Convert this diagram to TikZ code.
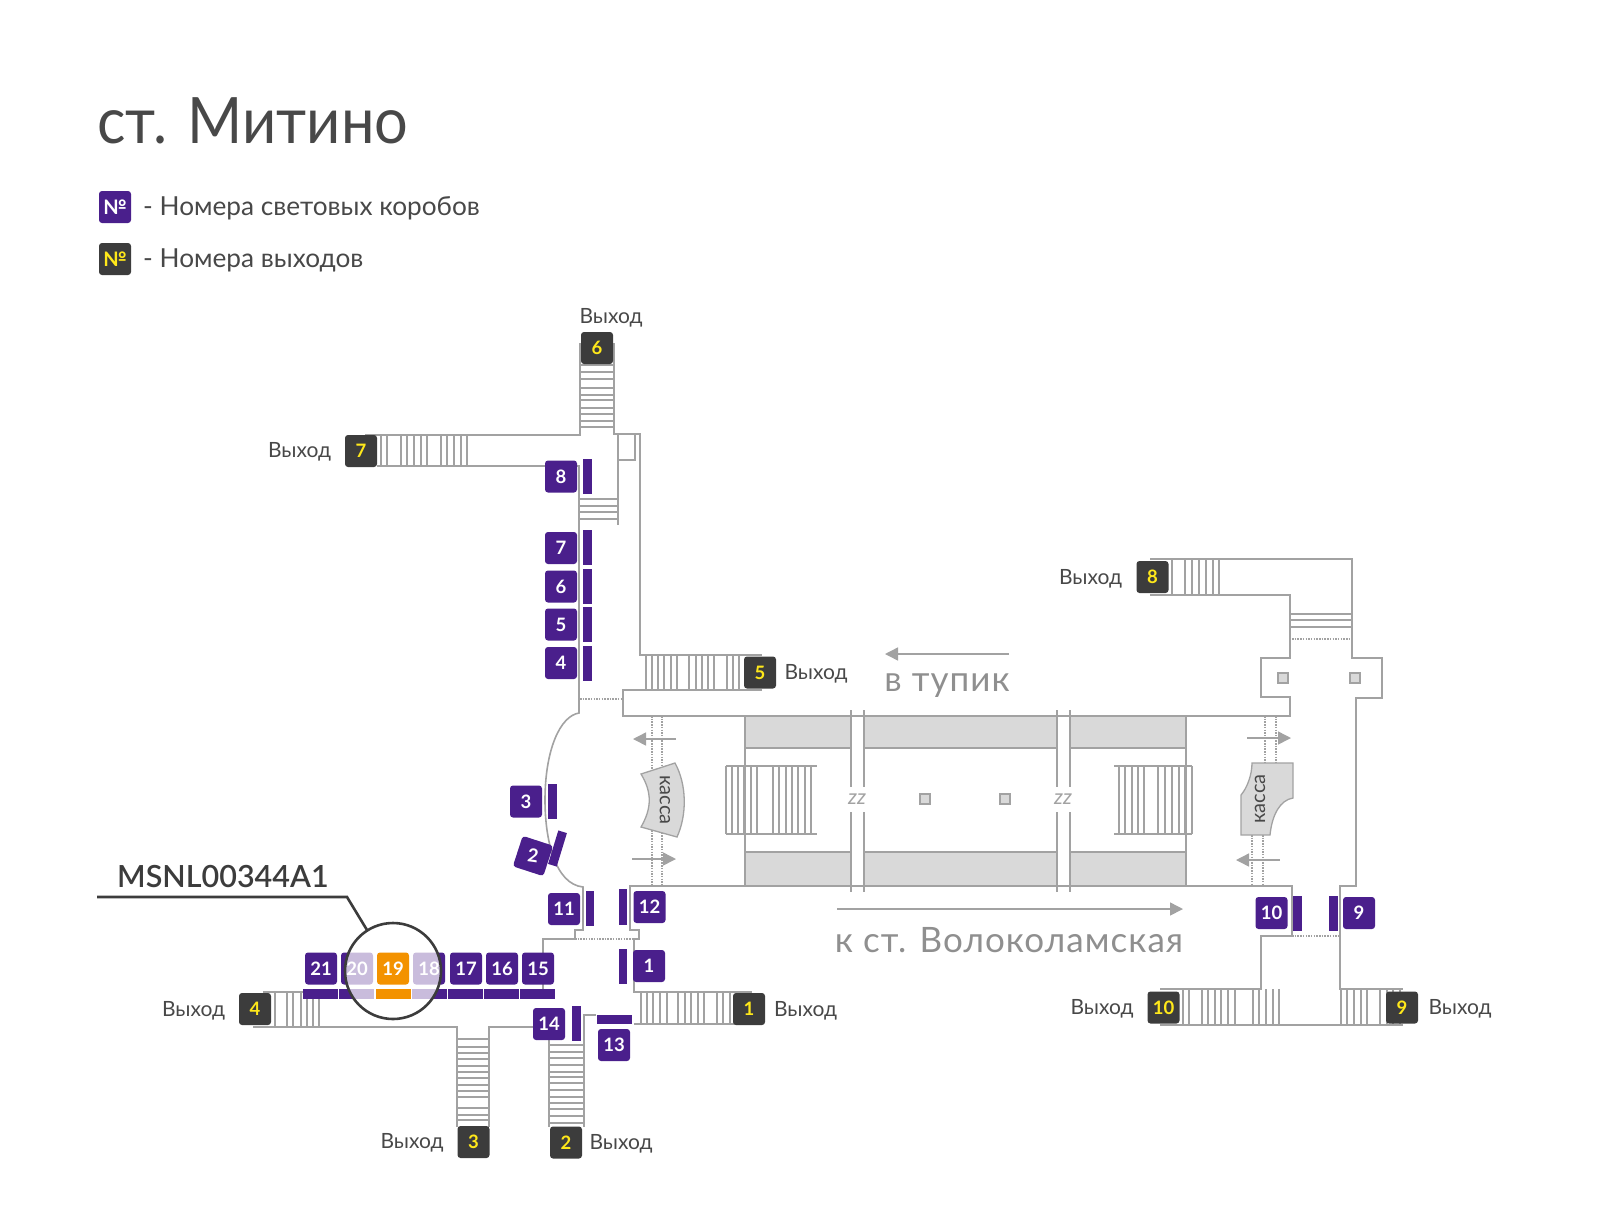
\documentclass[tikz,border=0pt]{standalone}
\usepackage{fontspec}
\setmainfont{Lato}
\newfontfamily\titlef[FakeStretch=0.93]{Lato}
\newfontfamily\medf{Lato Semibold}
\newfontfamily\numf{Lato Bold}
\newfontfamily\farf[LetterSpace=3]{Lato}
\definecolor{wall}{HTML}{A2A2A2}
\definecolor{band}{HTML}{D9D9D9}
\definecolor{plum}{HTML}{4A1F8C}
\definecolor{ink}{HTML}{3C3C3C}
\definecolor{inkt}{HTML}{484848}
\definecolor{amber}{HTML}{F39200}
\definecolor{lemon}{HTML}{FFE81A}
\definecolor{greytext}{HTML}{8F8F8F}
\newcommand{\fs}[1]{\fontsize{#1}{#1}\selectfont}
\tikzset{
  wallline/.style={draw=wall,line width=1.6pt},
  dotline/.style={draw=wall,line width=1.2pt,dash pattern=on 1.5pt off 1.2pt},
  tread/.style={draw=wall,line width=1.3pt},
  purplebox/.style={fill=plum,rounded corners=3pt,minimum size=32pt,inner sep=0pt,text=white,font=\numf\fs{18.5}},
  exitbox/.style={fill=ink,rounded corners=3pt,minimum size=32pt,inner sep=0pt,text=lemon,font=\numf\fs{18.5}},
  bar/.style={fill=plum},
  vyhod/.style={inner sep=0pt,text=inkt,font=\fs{21}},
  bigarrow/.style={draw=wall,line width=1.5pt,-{Triangle[length=13pt,width=13pt]}},
  pillar/.style={draw=wall,fill=band,line width=1.3pt},
  kassashape/.style={draw=wall,fill=band,line width=1.3pt},
  kassatext/.style={inner sep=0pt,text=inkt,font=\fs{20}},
  zztext/.style={inner sep=1pt,fill=white,text=wall,font=\itshape\fs{21}},
  farlabel/.style={inner sep=0pt,text=greytext,font=\farf\fs{35}},
  legendtext/.style={inner sep=0pt,anchor=west,text=inkt,font=\fs{26.2}}
}
\usetikzlibrary{arrows.meta}
\begin{document}
\begin{tikzpicture}[x=1pt,y=-1pt]
\useasboundingbox (0,0) rectangle (1600,1216);
% title and legend
\node[inner sep=0pt,anchor=base west,text=inkt,font=\titlef\fs{64}] (title) at (97,143) {ст. Митино};
\node[purplebox,font=\numf\fs{20}] (legA) at (115,207) {№};
\node[exitbox,font=\numf\fs{20}] (legB) at (115,259) {№};
\node[legendtext] (legAt) at (143,208) {- Номера световых коробов};
\node[legendtext] (legBt) at (143,260) {- Номера выходов};

% platform bands
\foreach \a/\b in {745/851,864/1057,1070/1186}{
  \path[fill=band] (\a,716) rectangle (\b,748);
  \path[fill=band] (\a,852) rectangle (\b,886);
  \draw[tread] (\a,748) -- (\b,748);
  \draw[tread] (\a,852) -- (\b,852);
}
% walls
\draw[wallline] (580,343) -- (580,435) -- (365,435);
\draw[wallline] (614,343) -- (614,434) -- (640,434) -- (640,655) -- (762,655);
\draw[wallline] (377,466) -- (579,466) -- (579,713)
   .. controls (560,716) and (545,750) .. (545,800)
   .. controls (545,840) and (555,884) .. (583,887) -- (583,930) -- (575,930) -- (575,939) -- (543,939) -- (543,989);
\draw[wallline] (618,434) -- (618,525);
\draw[wallline] (635,435) -- (635,460) -- (618,460);
\draw[wallline] (762,690) -- (623,690) -- (623,716) -- (1290,716) -- (1290,697) -- (1261,697) -- (1261,658) -- (1290,658) -- (1290,595) -- (1150,595);
\draw[wallline] (1150,559) -- (1352,559) -- (1352,658) -- (1382,658) -- (1382,698) -- (1356,698) -- (1356,886) -- (1340,886) -- (1340,989) -- (1403,989);
\draw[wallline] (745,716) -- (745,886);
\draw[wallline] (1186,716) -- (1186,886);
\draw[wallline] (630,925) -- (630,886) -- (1292,886) -- (1292,936) -- (1261,936) -- (1261,989) -- (1160,989);
\draw[wallline] (1160,1025) -- (1403,1025);
\draw[wallline] (630,925) -- (630,930) -- (639,930) -- (639,939) -- (634,939) -- (634,992) -- (752,992);
\draw[wallline] (752,1024) -- (634,1024);
\draw[wallline] (253,1027) -- (457,1027) -- (457,1127);
\draw[wallline] (263,992) -- (305,992);
\draw[wallline] (489,1127) -- (489,1027) -- (535,1027);
\draw[wallline] (549,1040) -- (549,1127);
\draw[wallline] (596,1015) -- (584,1015) -- (584,1127);
% gaps in the platform
\foreach \x in {851,864,1057,1070}{
  \draw[wallline] (\x,710) -- (\x,787);
  \draw[wallline] (\x,812) -- (\x,892);
}
\node[zztext] (zzA) at (857,799) {zz};
\node[zztext] (zzB) at (1063,799) {zz};
% dotted lines
\draw[dotline] (580,699) -- (623,699);
\draw[dotline] (575,939) -- (639,939);
\draw[dotline] (1292,639) -- (1352,639);
\draw[dotline] (1292,936) -- (1340,936);
\foreach \x in {652,662}{
  \draw[dotline] (\x,716) -- (\x,775);
  \draw[dotline] (\x,830) -- (\x,886);
}
\foreach \x in {1265,1276}{\draw[dotline] (\x,716) -- (\x,763);}
\foreach \x in {1252,1263}{\draw[dotline] (\x,835) -- (\x,886);}
% stairs: vertical treads
\foreach \x in {381,387,401,407,414,421,427,441,447,454,461,467}{\draw[tread] (\x,435) -- (\x,466);}
\foreach \x in {646,652,658,664,671,677,689,696,702,708,714,727,733,739}{\draw[tread] (\x,655) -- (\x,690);}
\foreach \x in {1172,1185,1192,1199,1206,1213,1219}{\draw[tread] (\x,559) -- (\x,595);}
\foreach \x in {275,287,293,301,307,313,319}{\draw[tread] (\x,992) -- (\x,1027);}
\foreach \x in {641,647,653,660,667,678,685,691,698,704,717,723,730,737}{\draw[tread] (\x,992) -- (\x,1024);}
\foreach \x in {1183,1189,1202,1208,1215,1221,1228,1235,1253,1259,1266,1273,1279}{\draw[tread] (\x,989) -- (\x,1025);}
\foreach \x in {1341,1347,1354,1361,1367,1380,1387,1393,1400}{\draw[tread] (\x,989) -- (\x,1025);}
\foreach \x in {726,732,738,744,751,757,773,779,786,792,798,805,811}{\draw[tread] (\x,766) -- (\x,834);}
\foreach \x in {1119,1125,1132,1138,1144,1158,1165,1172,1179,1185,1192}{\draw[tread] (\x,766) -- (\x,834);}
\draw[tread] (726,766) -- (817,766);
\draw[tread] (726,834) -- (817,834);
\draw[tread] (1114,766) -- (1192,766);
\draw[tread] (1114,834) -- (1192,834);
% stairs: horizontal treads
\foreach \y in {365,372,379,388,395,400,408,414,421,427}{\draw[tread] (580,\y) -- (614,\y);}
\foreach \y in {499,506,512,519}{\draw[tread] (580,\y) -- (618,\y);}
\foreach \y in {614,620,627}{\draw[tread] (1290,\y) -- (1352,\y);}
\foreach \y in {1039,1047,1053,1059,1066,1072,1078,1085,1091,1097,1108,1115,1120}{\draw[tread] (457,\y) -- (489,\y);}
\foreach \y in {1045,1052,1058,1065,1072,1077,1083,1090,1097,1103,1109,1116,1123}{\draw[tread] (549,\y) -- (584,\y);}
% cash desks and pillars
\path[kassashape] (641,774) -- (675,763) .. controls (687,785) and (687,815) .. (677,837) -- (641,827) .. controls (652,808) and (652,792) .. (641,774) -- cycle;
\node[kassatext,rotate=-90] (kassaA) at (665,800) {касса};
\path[kassashape] (1252,763) -- (1293,763) -- (1293,798) .. controls (1280,800) and (1272,815) .. (1270,835) -- (1241,835) -- (1241,795) .. controls (1247,788) and (1252,775) .. (1252,763) -- cycle;
\node[kassatext,rotate=90] (kassaB) at (1260,799) {касса};
\foreach \x/\y in {925/799,1005/799,1283/678,1355/678}{\path[pillar] (\x-5,\y-5) rectangle (\x+5,\y+5);}
% direction arrows
\coordinate (a1s) at (676,739); \coordinate (a1e) at (633,739);
\coordinate (a2s) at (632,859); \coordinate (a2e) at (676,859);
\coordinate (a3s) at (1247,738); \coordinate (a3e) at (1291,738);
\coordinate (a4s) at (1280,860); \coordinate (a4e) at (1236,860);
\coordinate (a5s) at (1009,654); \coordinate (a5e) at (885,654);
\coordinate (a6s) at (837,909); \coordinate (a6e) at (1183,909);
\foreach \s/\e in {a1s/a1e,a2s/a2e,a3s/a3e,a4s/a4e,a5s/a5e,a6s/a6e}{\draw[bigarrow] (\s) -- (\e);}
\node[farlabel] (tup) at (947,686) {в тупик};
\node[farlabel] (volo) at (1009,940) {к ст. Волоколамская};
% banner bars
\foreach \x in {303,339,376,412,448,484,520}{\path[bar] (\x,989) rectangle (\x+35,999);}
\foreach \y in {530,569,607,646}{\path[bar] (583,\y) rectangle (592,\y+35);}
\path[bar] (583,459) rectangle (592,494);
\path[bar] (548,784) rectangle (557,819);
\path[bar,rotate around={-17:(557.5,848.5)}] (553,831) rectangle (562,866);
\path[bar] (586,891) rectangle (594,926);
\path[bar] (619,889) rectangle (627,925);
\path[bar] (619,949) rectangle (627,984);
\path[bar] (572,1006) rectangle (581,1041);
\path[bar] (597,1015) rectangle (632,1024);
\path[bar] (1293,896) rectangle (1302,931);
\path[bar] (1329,896) rectangle (1338,931);
% banner numbers
\foreach \n/\x/\y in {1/649/966,3/526/801.5,4/561/663,5/561/624.5,6/561/586.5,7/561/548,8/561/476.5,9/1359/913,10/1271.5/913,11/564/909,12/649.5/907,13/614/1045,14/549/1024,15/538/968.5,16/502/968.5,17/466/968.5,18/429/968.5,20/357/968.5,21/321/968.5}{
  \node[purplebox] (b\n) at (\x,\y) {\n};
}
\node[purplebox,rotate=-18] (b2box) at (533,856) {};
\node[inner sep=0pt,text=white,font=\numf\fs{18.5},rotate=-8] (b2) at (533,856) {2};
% exit numbers
\foreach \n/\x/\y in {1/749/1009,2/566/1142.5,3/473.5/1142,4/255/1009,5/760/672.5,6/597/348,7/361/451,8/1152.5/577,9/1402/1007.5,10/1163.5/1007.5}{
  \node[exitbox] (e\n) at (\x,\y) {\n};
}
% magnifier
\fill[white,opacity=.7] (393,971) circle (48);
\path[bar,fill=amber] (376,989) rectangle (411,999);
\node[purplebox,fill=amber] (b19) at (393,968.5) {19};
\draw[draw=ink,line width=2.6pt] (393,971) circle (48);
\coordinate (calloutEnd) at (367,930);
\coordinate (calloutStart) at (97,897);
\draw[draw=ink,line width=2.6pt] (calloutStart) -- (347,897) -- (calloutEnd);
\node[inner sep=0pt,anchor=base west,text=ink,font=\medf\fs{30.5}] (code) at (117,887) {MSNL00344A1};
% exit labels
\foreach \t/\x/\y in {a/611/318,b/299.5/452,c/816/674,d/1090.5/579,e/193.5/1011,f/805.5/1011,g/412/1143,h/621/1144,i/1102/1009,j/1460/1009}{
  \node[vyhod] (v\t) at (\x,\y) {Выход};
}
\end{tikzpicture}
\end{document}
